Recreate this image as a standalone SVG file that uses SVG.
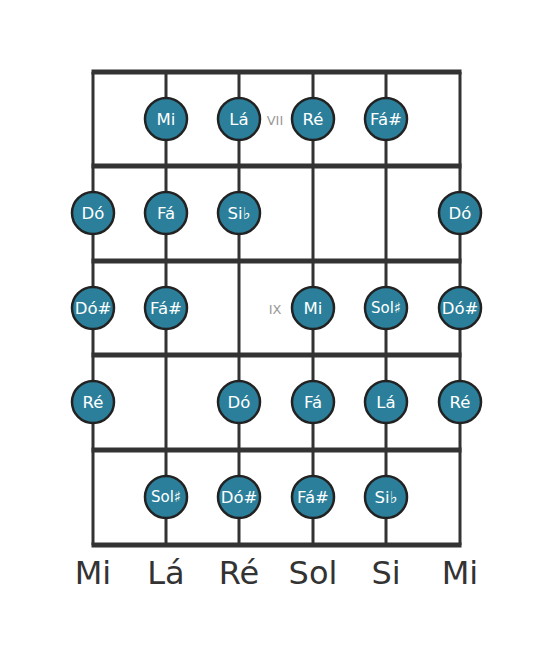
<svg xmlns="http://www.w3.org/2000/svg" width="553" height="656" viewBox="0 0 553 656">
<style>
.fret{stroke:#333;stroke-width:5}
.str{stroke:#333;stroke-width:3}
.note circle{fill:#2b7f9a;stroke:#222;stroke-width:2.5}
.note text{fill:#fff;font-family:"DejaVu Sans",sans-serif;font-size:16.5px;text-anchor:middle;dominant-baseline:central}
.mark{fill:#999;font-family:"DejaVu Sans",sans-serif;font-size:13px;text-anchor:middle;dominant-baseline:central}
.lbl{fill:#333;font-family:"DejaVu Sans",sans-serif;font-size:32px;text-anchor:middle}
</style>
<rect width="553" height="656" fill="#fff"/>
<g id="board">
<line class="str" x1="93" y1="72" x2="93" y2="545"/>
<line class="str" x1="166" y1="72" x2="166" y2="545"/>
<line class="str" x1="239" y1="72" x2="239" y2="545"/>
<line class="str" x1="313" y1="72" x2="313" y2="545"/>
<line class="str" x1="386" y1="72" x2="386" y2="545"/>
<line class="str" x1="460" y1="72" x2="460" y2="545"/>
<line class="fret" x1="91.5" y1="72" x2="461.5" y2="72"/>
<line class="fret" x1="91.5" y1="166" x2="461.5" y2="166"/>
<line class="fret" x1="91.5" y1="261" x2="461.5" y2="261"/>
<line class="fret" x1="91.5" y1="355" x2="461.5" y2="355"/>
<line class="fret" x1="91.5" y1="450" x2="461.5" y2="450"/>
<line class="fret" x1="91.5" y1="545" x2="461.5" y2="545"/>
</g>
<text class="mark" x="275" y="120">VII</text>
<text class="mark" x="275" y="309">IX</text>
<g id="r1">
<g id="n1" class="note"><circle cx="166" cy="119" r="21"/><text x="166" y="119">Mi</text></g>
<g id="n2" class="note"><circle cx="239" cy="119" r="21"/><text x="239" y="119">Lá</text></g>
<g id="n3" class="note"><circle cx="313" cy="119" r="21"/><text x="313" y="119">Ré</text></g>
<g id="n4" class="note"><circle cx="386" cy="119" r="21"/><text x="386" y="119">Fá#</text></g>
</g>
<g id="r2">
<g id="n5" class="note"><circle cx="93" cy="213" r="21"/><text x="93" y="213">Dó</text></g>
<g id="n6" class="note"><circle cx="166" cy="213" r="21"/><text x="166" y="213">Fá</text></g>
<g id="n7" class="note"><circle cx="239" cy="213" r="21"/><text x="239" y="213">Si♭</text></g>
<g id="n8" class="note"><circle cx="460" cy="213" r="21"/><text x="460" y="213">Dó</text></g>
</g>
<g id="r3">
<g id="n9" class="note"><circle cx="93" cy="308" r="21"/><text x="93" y="308">Dó#</text></g>
<g id="n10" class="note"><circle cx="166" cy="308" r="21"/><text x="166" y="308">Fá#</text></g>
<g id="n11" class="note"><circle cx="313" cy="308" r="21"/><text x="313" y="308">Mi</text></g>
<g id="n12" class="note"><circle cx="386" cy="308" r="21"/><text x="386" y="308" style="font-size:15px">Sol♯</text></g>
<g id="n13" class="note"><circle cx="460" cy="308" r="21"/><text x="460" y="308">Dó#</text></g>
</g>
<g id="r4">
<g id="n14" class="note"><circle cx="93" cy="402" r="21"/><text x="93" y="402">Ré</text></g>
<g id="n15" class="note"><circle cx="239" cy="402" r="21"/><text x="239" y="402">Dó</text></g>
<g id="n16" class="note"><circle cx="313" cy="402" r="21"/><text x="313" y="402">Fá</text></g>
<g id="n17" class="note"><circle cx="386" cy="402" r="21"/><text x="386" y="402">Lá</text></g>
<g id="n18" class="note"><circle cx="460" cy="402" r="21"/><text x="460" y="402">Ré</text></g>
</g>
<g id="r5">
<g id="n19" class="note"><circle cx="166" cy="497" r="21"/><text x="166" y="497" style="font-size:15px">Sol♯</text></g>
<g id="n20" class="note"><circle cx="239" cy="497" r="21"/><text x="239" y="497">Dó#</text></g>
<g id="n21" class="note"><circle cx="313" cy="497" r="21"/><text x="313" y="497">Fá#</text></g>
<g id="n22" class="note"><circle cx="386" cy="497" r="21"/><text x="386" y="497">Si♭</text></g>
</g>
<g id="labels">
<text class="lbl" x="93" y="584">Mi</text>
<text class="lbl" x="166" y="584">Lá</text>
<text class="lbl" x="239" y="584">Ré</text>
<text class="lbl" x="313" y="584">Sol</text>
<text class="lbl" x="386" y="584">Si</text>
<text class="lbl" x="460" y="584">Mi</text>
</g>
</svg>
